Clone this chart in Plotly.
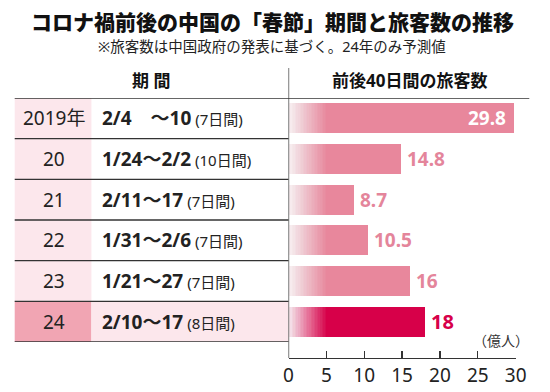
import plotly.graph_objects as go

# ---- data ----
years = ["2019年", "20", "21", "22", "23", "24"]
periods = ["2/4　～10", "1/24～2/2", "2/11～17", "1/31～2/6", "1/21～27", "2/10～17"]
days = ["(7日間)", "(10日間)", "(7日間)", "(7日間)", "(7日間)", "(8日間)"]
passengers = [29.8, 14.8, 8.7, 10.5, 16, 18]
xticks = [0, 5, 10, 15, 20, 25, 30]

title = "コロナ禍前後の中国の「春節」期間と旅客数の推移"
subtitle = "※旅客数は中国政府の発表に基づく。24年のみ予測値"
head_left = "期 間"
head_right = "前後40日間の旅客数"
unit = "（億人）"

# ---- styling ----
W, H = 550, 392
PINK = "#e8879c"
PINK_TXT = "#e4859b"
CRIMSON = "#d70049"
LIGHT = "#fce7ec"
YEAR24 = "#f1a5b3"
LINE = "#333333"
JP = "Noto Sans, Noto Sans CJK JP, sans-serif"
JPB = "Noto Sans CJK JP, sans-serif"

def px(x):
    return x / W

def py(y):
    return 1 - y / H

n = len(years)
ys = list(range(n))
hl = n - 1
bar_colors = [CRIMSON if i == hl else PINK for i in ys]

fig = go.Figure()
fig.add_trace(go.Bar(
    y=ys, x=passengers, orientation="h", width=0.74,
    marker=dict(color=bar_colors, line=dict(width=0)),
    hoverinfo="skip", showlegend=False,
))

# white gradient overlay on the left of each bar (styling)
N = 24
GL = 5.0
O = [0.93 * (1 - j / N) for j in range(N)] + [0.0]
T = [1 - o for o in O]
for k in range(N):
    a = 1 - T[k] / T[k + 1]
    xe = GL * (k + 1) / N
    fig.add_trace(go.Bar(
        y=ys, x=[min(xe, v) for v in passengers], orientation="h", width=0.74,
        marker=dict(color=f"rgba(255,255,255,{a:.4f})", line=dict(width=0)),
        hoverinfo="skip", showlegend=False,
    ))

shapes = []
for i in ys:
    shapes.append(dict(type="rect", xref="paper", yref="y", x0=px(10), x1=px(89),
                       y0=i - 0.5, y1=i + 0.5, fillcolor=YEAR24 if i == hl else LIGHT,
                       line=dict(width=0), layer="below"))
shapes.append(dict(type="rect", xref="paper", yref="y", x0=px(89), x1=px(292),
                   y0=hl - 0.5, y1=hl + 0.5, fillcolor=LIGHT, line=dict(width=0), layer="below"))
shapes.append(dict(type="line", xref="paper", yref="y", x0=px(10), x1=px(540),
                   y0=-0.5, y1=-0.5, line=dict(color=LINE, width=1.5)))
for i in ys:
    shapes.append(dict(type="line", xref="paper", yref="y", x0=px(10), x1=px(292),
                       y0=i + 0.5, y1=i + 0.5, line=dict(color=LINE, width=1.3)))
shapes.append(dict(type="line", xref="x", yref="paper", x0=0, x1=0,
                   y0=py(358), y1=py(68), line=dict(color=LINE, width=1.3)))

ann = []
def add(text, x, y, xref="paper", yref="paper", xanchor="center", size=19, color="#222",
        xshift=0, family=JP, weight=None):
    f = dict(family=family, size=size, color=color)
    if weight:
        f["weight"] = weight
    ann.append(dict(text=text, x=x, y=y, xref=xref, yref=yref, showarrow=False,
                    xanchor=xanchor, yanchor="middle", xshift=xshift, font=f))

add(title, 0.5, py(21), size=21, color="#111", family=JPB, weight=900)
add(subtitle, 0.5, py(46), size=14.5, color="#222")
add(f"<b>{head_left}</b>", px(150), py(81), size=17, color="#111")
add(f"<b>{head_right}</b>", px(417), py(81), size=17, color="#111")
for i in ys:
    add(years[i], px(50), i, yref="y", size=19)
    add(f"<b>{periods[i]}</b><span style='font-size:15px'> {days[i]}</span>",
        px(98), i, yref="y", xanchor="left", size=19)
    v = passengers[i]
    if v > 25:
        add(f"<b>{v:g}</b>", v, i, xref="x", yref="y", xanchor="right", xshift=-6,
            size=19, color="white")
    else:
        add(f"<b>{v:g}</b>", v, i, xref="x", yref="y", xanchor="left", xshift=4,
            size=20 if i == hl else 19, color=CRIMSON if i == hl else PINK_TXT)
add(unit, px(542), py(340), xanchor="right", size=14, color="#333")

fig.update_layout(
    width=W, height=H, margin=dict(l=0, r=0, t=0, b=0),
    paper_bgcolor="white", plot_bgcolor="rgba(0,0,0,0)",
    barmode="overlay", bargap=0, showlegend=False,
    shapes=shapes, annotations=ann,
    xaxis=dict(domain=[px(292), px(526)], range=[0, 30], tickvals=xticks,
               ticks="inside", ticklen=7, tickcolor=LINE, tickwidth=1.3,
               showline=True, linecolor=LINE, linewidth=1.3, showgrid=False, zeroline=False,
               anchor="free", position=py(358),
               tickfont=dict(family=JP, size=19, color="#222"), fixedrange=True),
    yaxis=dict(domain=[py(342), py(98)], range=[n - 0.5, -0.5], visible=False, fixedrange=True),
)

fig.write_html("out.html", config={"displayModeBar": False, "staticPlot": True},
               post_script="document.body.style.margin='0';document.body.style.overflow='hidden';")
